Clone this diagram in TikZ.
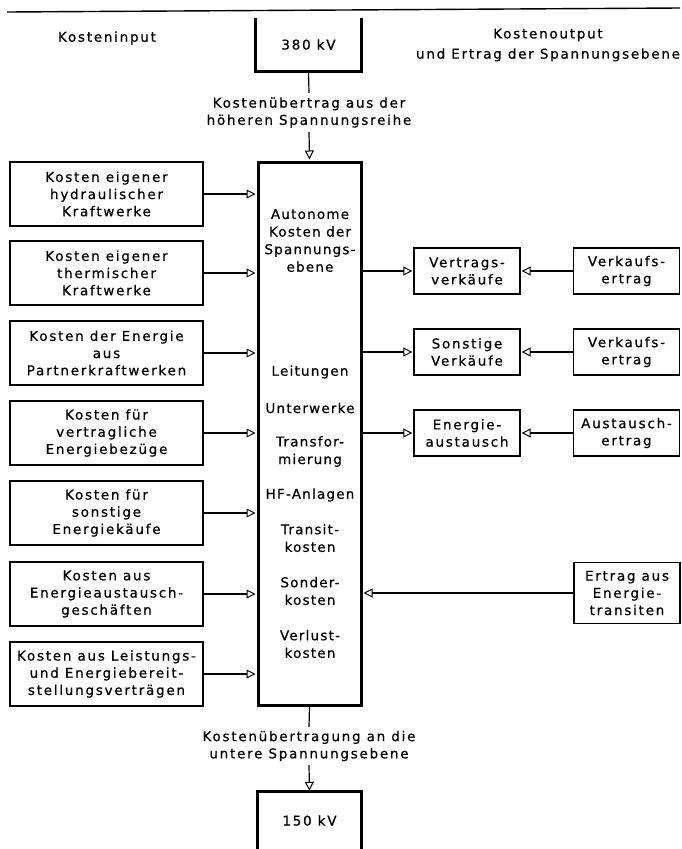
\documentclass[tikz,border=0pt]{standalone}
\usepackage{fontspec}
\setmainfont{DejaVu Sans}[LetterSpace=13,FakeBold=0.6]
\usetikzlibrary{arrows.meta}
\begin{document}
\begin{tikzpicture}[x=1pt,y=-1pt,
  font=\fontsize{13.5}{17.2}\selectfont,
  lbox/.style={draw, line width=1.3pt, minimum width=193pt, minimum height=64pt, align=center, inner sep=0pt},
  rbox/.style={draw, line width=1.3pt, minimum width=106pt, minimum height=46pt, align=center, inner sep=0pt},
  txt/.style={align=center, inner sep=0pt},
  mtxt/.style={align=center, inner sep=0pt, font={\fontsize{13.5}{17.6}\selectfont\addfontfeatures{LetterSpace=9}}},
  heavy/.style={line width=3pt},
  conn/.style={line width=1.2pt},
  arr/.style={line width=1.2pt, shorten >=1pt, -{Triangle[open, length=9pt, width=9pt, line width=1pt]}}]
\useasboundingbox (0,0) rectangle (682,849);
\fill[white] (0,0) rectangle (682,849);
% top rule
\draw[line width=1.4pt] (7,12) -- (680,8);
% headings
\node[txt] (kin) at (107,38) {Kosteninput};
\node[txt] (kout) at (548,45) {Kostenoutput\\[3pt]und Ertrag der Spannungsebene};
% 380 kV
\node[txt, minimum width=105pt, minimum height=53pt] (kv380) at (308.5,44.5) {380 kV};
\draw[heavy] (kv380.north west) -- (kv380.south west) -- (kv380.south east) -- (kv380.north east);
\node[txt, minimum height=39pt] (lab1) at (309,112.5) {Kostenübertrag aus der\\höheren Spannungsreihe};
% main box
\node[draw, heavy, minimum width=103pt, minimum height=543pt, inner sep=0pt] (main) at (309.5,433.5) {};
\draw[conn] (kv380.south) -- (lab1.north);
\draw[arr] (lab1.south) -- (main.north);
% main texts
\node[mtxt] (t1) at (310,240.5) {Autonome\\Kosten der\\Spannungs-\\ebene};
\node[mtxt] (t2) at (310,372) {Leitungen};
\node[mtxt] (t3) at (310,408) {Unterwerke};
\node[mtxt] (t4) at (310,451.5) {Transfor-\\mierung};
\node[mtxt] (t5) at (310,495) {HF-Anlagen};
\node[mtxt] (t6) at (310,538) {Transit-\\kosten};
\node[mtxt] (t7) at (310,591) {Sonder-\\kosten};
\node[mtxt] (t8) at (310,644) {Verlust-\\kosten};
% left boxes
\node[lbox] (l1) at (106.5,194) {Kosten eigener\\hydraulischer\\Kraftwerke};
\node[lbox] (l2) at (106.5,273) {Kosten eigener\\thermischer\\Kraftwerke};
\node[lbox] (l3) at (106.5,353) {Kosten der Energie\\aus\\Partnerkraftwerken};
\node[lbox] (l4) at (106.5,433) {Kosten für\\vertragliche\\Energiebezüge};
\node[lbox] (l5) at (106.5,513) {Kosten für\\sonstige\\Energiekäufe};
\node[lbox] (l6) at (106.5,594) {Kosten aus\\Energieaustausch-\\geschäften};
\node[lbox] (l7) at (106.5,674) {Kosten aus Leistungs-\\und Energiebereit-\\stellungsverträgen};
\foreach \n in {l1,l2,l3,l4,l5,l6,l7}
  \draw[arr] (\n.east) -- (\n.east -| main.west);
% right side
\node[rbox] (m1) at (467,271) {Vertrags-\\verkäufe};
\node[rbox] (m2) at (467,352) {Sonstige\\Verkäufe};
\node[rbox] (m3) at (467,433) {Energie-\\austausch};
\node[rbox] (r1) at (626.5,271) {Verkaufs-\\ertrag};
\node[rbox] (r2) at (626.5,352) {Verkaufs-\\ertrag};
\node[rbox] (r3) at (626.5,433) {Austausch-\\ertrag};
\node[rbox, minimum height=61pt] (tr) at (627,593) {Ertrag aus\\Energie-\\transiten};
\foreach \n in {1,2,3}{
  \draw[arr] (main.east |- m\n.west) -- (m\n.west);
  \draw[arr] (r\n.west) -- (m\n.east);
}
\draw[arr] (tr.west) -- (tr.west -| main.east);
% bottom
\node[txt, minimum height=38pt] (lab2) at (309,746) {Kostenübertragung an die\\untere Spannungsebene};
\node[txt, minimum width=103pt, minimum height=57pt] (kv150) at (309.5,820.5) {150 kV};
\draw[conn] (main.south) -- (lab2.north);
\draw[arr] (lab2.south) -- (kv150.north);
\draw[heavy] (kv150.south west) -- (kv150.north west) -- (kv150.north east) -- (kv150.south east);
\end{tikzpicture}
\end{document}
